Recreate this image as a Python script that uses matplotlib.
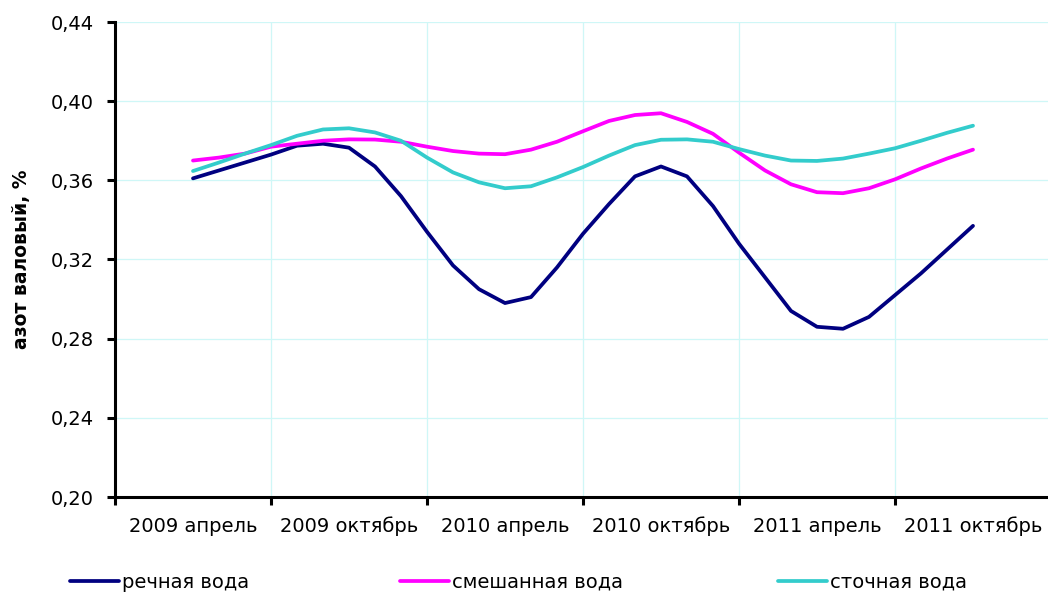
"""
Nitrogen content (азот валовый, %) in river, mixed and waste water, 2009-2011.
"""
import matplotlib

matplotlib.use("Agg")
import matplotlib.pyplot as plt
import numpy as np

CATEGORIES = ["2009 апрель", "2009 октябрь", "2010 апрель",
              "2010 октябрь", "2011 апрель", "2011 октябрь"]

# monthly values, April 2009 .. October 2011 (31 points)
RIVER = [0.361, 0.365, 0.369, 0.373, 0.3775, 0.3785, 0.3765, 0.367, 0.352, 0.334,
         0.317, 0.305, 0.298, 0.301, 0.316, 0.333, 0.348, 0.362, 0.367, 0.362,
         0.347, 0.328, 0.311, 0.294, 0.286, 0.285, 0.291, 0.302, 0.313, 0.325, 0.337]
MIXED = [0.370, 0.3715, 0.3735, 0.377, 0.3785, 0.380, 0.3807, 0.3806, 0.3795, 0.377,
         0.3748, 0.3735, 0.3732, 0.3755, 0.3795, 0.3848, 0.390, 0.393, 0.3939, 0.3895,
         0.3835, 0.374, 0.365, 0.358, 0.354, 0.3535, 0.356, 0.3605, 0.366, 0.371, 0.3755]
WASTE = [0.3647, 0.369, 0.3735, 0.3778, 0.3825, 0.3857, 0.3863, 0.3842, 0.380, 0.3715,
         0.364, 0.359, 0.356, 0.357, 0.3615, 0.3667, 0.3725, 0.3778, 0.3805, 0.3807,
         0.3795, 0.3758, 0.3725, 0.370, 0.3698, 0.371, 0.3735, 0.3762, 0.380, 0.384, 0.3876]

SERIES = [
    ("речная вода", RIVER, "#000080"),
    ("смешанная вода", MIXED, "#FF00FF"),
    ("сточная вода", WASTE, "#33CCCC"),
]

W, H = 1048, 593
fig = plt.figure(figsize=(W / 100, H / 100), dpi=100)
ax = fig.add_axes([115 / W, 96 / H, 936 / W, 475 / H])

x = np.arange(len(RIVER)) / 6.0
handles = []
for label, vals, color in SERIES:
    (ln,) = ax.plot(x, vals, color=color, linewidth=2.7, label=label,
                    solid_joinstyle="round", solid_capstyle="round", zorder=3)
    handles.append(ln)

ax.set_xlim(-0.5, 5.5)
ax.set_ylim(0.20, 0.44)

yt = np.arange(0.20, 0.441, 0.04)
ax.set_yticks(yt)
ax.set_yticklabels([f"{v:.2f}".replace(".", ",") for v in yt])

ax.set_xticks(np.arange(-0.5, 5.0, 1.0))
ax.set_xticklabels([])
ax.set_xticks(np.arange(len(CATEGORIES)), minor=True)
ax.set_xticklabels(CATEGORIES, minor=True, va="baseline")

ax.tick_params(axis="both", which="major", direction="out", length=6, width=2.2,
               color="black", labelsize=14)
ax.tick_params(axis="y", pad=9)
ax.tick_params(axis="x", which="minor", length=0, pad=25, labelsize=14)

ax.grid(True, which="major", color="#CFF7F7", linewidth=0.9, zorder=0)
ax.set_axisbelow(True)

for side in ("top", "right"):
    ax.spines[side].set_visible(False)
for side in ("left", "bottom"):
    ax.spines[side].set_linewidth(2.2)

fig.text(22 / W, 1 - 259 / H, "азот валовый, %", rotation=90, ha="center",
         va="center", fontsize=13.5, fontweight="bold")

# legend entries spread along the bottom
for h, xs in zip(handles, (70, 400, 778)):
    fig.legend(handles=[h], loc="center left",
               bbox_to_anchor=(xs / W, 1 - 582 / H), frameon=False,
               fontsize=14, handlelength=2.5, handletextpad=0.15,
               borderpad=0, borderaxespad=0)

fig.savefig("out.png", dpi=100)
